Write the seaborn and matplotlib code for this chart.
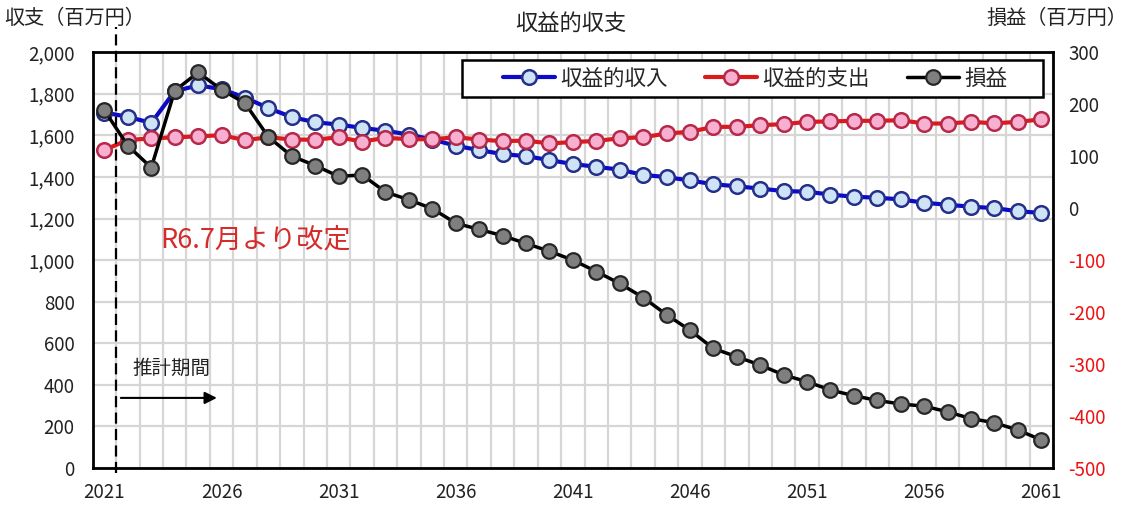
import numpy as np
import pandas as pd
import matplotlib
matplotlib.use("Agg")
import matplotlib.pyplot as plt
import seaborn as sns
from matplotlib.ticker import FixedLocator
from matplotlib.patches import Rectangle

# 年度
years = list(range(2021, 2062))

# 収益的収入 (百万円)
revenue = [1710, 1689, 1660, 1812, 1841, 1822, 1782, 1731, 1688, 1663,
           1652, 1636, 1622, 1604, 1580, 1550, 1529, 1510, 1500, 1481,
           1462, 1449, 1435, 1410, 1399, 1383, 1365, 1355, 1344, 1332,
           1329, 1315, 1305, 1300, 1292, 1276, 1266, 1257, 1250, 1235,
           1227]

# 収益的支出 (百万円)
expense = [1530, 1578, 1585, 1591, 1595, 1601, 1577, 1591, 1580, 1579,
           1591, 1570, 1588, 1582, 1581, 1591, 1580, 1572, 1575, 1561,
           1568, 1573, 1586, 1591, 1609, 1617, 1641, 1641, 1649, 1654,
           1665, 1667, 1670, 1670, 1673, 1657, 1657, 1665, 1658, 1665,
           1677]

# 損益 (百万円)
balance = [188, 120, 78, 226, 261, 228, 202, 137, 100, 82,
           61, 64, 31, 16, -1, -29, -41, -53, -68, -83,
           -100, -122, -145, -172, -205, -235, -270, -286, -302, -321,
           -334, -350, -361, -370, -377, -381, -392, -405, -413, -427,
           -446]

x_labels = [2021, 2026, 2031, 2036, 2041, 2046, 2051, 2056, 2061]
left_ticks = list(range(0, 2001, 200))
right_ticks = list(range(-500, 301, 100))

sns.set_theme(style="white")
plt.rcParams["font.family"] = ["Noto Sans CJK JP", "DejaVu Sans"]

df = pd.DataFrame({"年度": years, "収益的収入": revenue,
                   "収益的支出": expense, "損益": balance})

fig = plt.figure(figsize=(11.31, 5.07), dpi=100)
ax = fig.add_axes([0.082, 0.077, 0.849, 0.820])
ax2 = ax.twinx()

sns.lineplot(data=df, x="年度", y="収益的収入", ax=ax, color="#0c0cc8",
             linewidth=3, marker="o", markersize=10.5,
             markerfacecolor="#cfe3f7", markeredgecolor="#24308a",
             markeredgewidth=1.8, label="収益的収入", legend=False)
sns.lineplot(data=df, x="年度", y="収益的支出", ax=ax, color="#dd1a1a",
             linewidth=3, marker="o", markersize=10.5,
             markerfacecolor="#f7b0cf", markeredgecolor="#b8284a",
             markeredgewidth=1.8, label="収益的支出", legend=False)
sns.lineplot(data=df, x="年度", y="損益", ax=ax2, color="black",
             linewidth=2.5, marker="o", markersize=10.5,
             markerfacecolor="#7f7f7f", markeredgecolor="#262626",
             markeredgewidth=1.6, label="損益", legend=False)

handles = [ax.get_lines()[0], ax.get_lines()[1], ax2.get_lines()[0]]

# axes ranges
ax.set_xlim(2020.5, 2061.5)
ax.set_ylim(0, 2000)
ax2.set_ylim(-500, 300)

# grid: vertical lines between years, horizontal every 200
ax.set_xticks(x_labels)
ax.set_xticklabels([str(v) for v in x_labels])
ax.xaxis.set_minor_locator(FixedLocator(np.arange(2020.5, 2062, 1.0)))
ax.set_yticks(left_ticks)
ax.set_yticklabels([f"{v:,}" for v in left_ticks])
ax.set_axisbelow(True)
ax.grid(False)
ax.grid(which="minor", axis="x", color="#d6d6d6", linewidth=1.6)
ax.grid(which="major", axis="y", color="#d6d6d6", linewidth=1.6)
ax.set_xlabel("")
ax.set_ylabel("")
ax2.set_ylabel("")
ax2.grid(False)

ax.tick_params(axis="both", which="both", length=0, colors="#222222")
ax.tick_params(axis="x", labelsize=13.5, pad=10)
ax.tick_params(axis="y", labelsize=13.5, pad=13)

ax2.set_yticks(right_ticks)
ax2.set_yticklabels([str(v) for v in right_ticks])
ax2.tick_params(axis="y", length=0, labelsize=13.5, pad=11)
for lab, v in zip(ax2.get_yticklabels(), right_ticks):
    lab.set_color("#ee1111" if v < 0 else "#222222")

for sp in ax.spines.values():
    sp.set_color("black")
    sp.set_linewidth(2)
for sp in ax2.spines.values():
    sp.set_visible(False)

# start of the projection period
ax.plot([2021.5, 2021.5], [-0.012, 1.06], transform=ax.get_xaxis_transform(),
        clip_on=False, color="black", linewidth=1.6, linestyle=(0, (5, 2.4)),
        zorder=3)
ax.annotate("", xy=(2025.8, 337), xytext=(2021.7, 337),
            arrowprops=dict(arrowstyle="-|>", color="black", lw=1.5,
                            mutation_scale=18, shrinkA=0, shrinkB=0))
ax.text(2022.2, 481, "推計期間", fontsize=14, color="#222222",
        ha="left", va="center")
ax.text(2023.4, 1096, "R6.7月より改定", fontsize=19.5, color="#d42b2b",
        ha="left", va="center")

# titles and axis captions
fig.text(0.505, 1 - 23 / 507, "収益的収支", fontsize=16, ha="center",
         va="center", color="#222222")
fig.text(4 / 1131, 1 - 18 / 507, "収支（百万円）", fontsize=14.5, ha="left",
         va="center", color="#222222")
fig.text(1127 / 1131, 1 - 18 / 507, "損益（百万円）", fontsize=14.5, ha="right",
         va="center", color="#222222")

# legend: boxed frame with the entries laid out inside it
ax2.add_patch(Rectangle((0.3846, 0.8918), 0.605, 0.0889,
                        transform=ax2.transAxes, facecolor="white",
                        edgecolor="black", linewidth=1.8, zorder=4.5,
                        clip_on=False))
leg = ax2.legend(handles=handles, labels=["収益的収入", "収益的支出", "損益"],
                 loc="center left", bbox_to_anchor=(0.4273, 0.936), ncol=3,
                 fontsize=15.5, frameon=False, handlelength=2.4,
                 columnspacing=1.75, handletextpad=0.25, borderpad=0,
                 borderaxespad=0)
leg.set_zorder(5)

fig.savefig("out.png", dpi=100)
